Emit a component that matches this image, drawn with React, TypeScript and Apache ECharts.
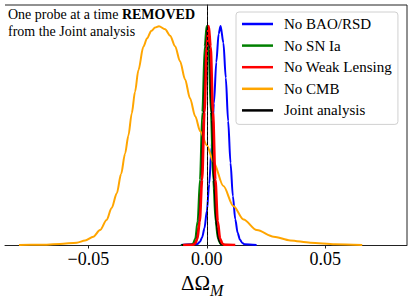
import React, { useEffect, useRef } from "react";
import * as echarts from "echarts";

const seriesNames = ["No BAO/RSD", "No SN Ia", "No Weak Lensing", "No CMB", "Joint analysis"];
const seriesColors = ["#0000ff", "#008000", "#ff0000", "#ffa500", "#000000"];

const noBaoX = [-0.011, -0.004, -0.003, -0.002, -0.001, 0, 0.001, 0.002, 0.003, 0.004, 0.005, 0.0058, 0.007, 0.008, 0.009, 0.01, 0.011, 0.012, 0.013, 0.014, 0.015, 0.016, 0.021];
const noBaoY = [0, 0.0048, 0.0135, 0.034, 0.0766, 0.154, 0.278, 0.448, 0.647, 0.835, 0.965, 1, 0.923, 0.764, 0.566, 0.375, 0.223, 0.118, 0.056, 0.0239, 0.0091, 0.0031, 0];

const noSnX = [-0.0109, -0.0069, -0.0059, -0.0049, -0.0039, -0.0029, -0.0019, -0.0009, -0.0001, 0.0007, 0.0017, 0.0027, 0.0037, 0.0047, 0.0057, 0.0067, 0.011];
const noSnY = [0, 0.0008, 0.0056, 0.0286, 0.108, 0.298, 0.607, 0.906, 1, 0.906, 0.607, 0.298, 0.108, 0.0286, 0.0056, 0.0008, 0];

const noWlX = [-0.01, -0.006, -0.005, -0.004, -0.003, -0.002, -0.001, 0, 0.0008, 0.0016, 0.0026, 0.0036, 0.0046, 0.0056, 0.0066, 0.0076, 0.012];
const noWlY = [0, 0.0008, 0.0056, 0.0286, 0.108, 0.298, 0.607, 0.906, 1, 0.906, 0.607, 0.298, 0.108, 0.0286, 0.0056, 0.0008, 0];

const noCmbX = [-0.0793, -0.0705, -0.062, -0.0549, -0.0514, -0.0479, -0.0451, -0.0423, -0.0402, -0.038, -0.0362, -0.0345, -0.0331, -0.0317, -0.0303, -0.0289, -0.0268, -0.0252, -0.0235, -0.0218, -0.0202, -0.0176, -0.0155, -0.0134, -0.0113, -0.0092, -0.0071, -0.0049, -0.0028, 0, 0.0028, 0.007, 0.0112, 0.0155, 0.0211, 0.0282, 0.0352, 0.0437, 0.0542, 0.0656];
const noCmbY = [0, 0.001, 0.0046, 0.0105, 0.02, 0.038, 0.068, 0.114, 0.169, 0.236, 0.324, 0.418, 0.5, 0.601, 0.7, 0.798, 0.905, 0.944, 0.977, 0.993, 0.999, 0.985, 0.956, 0.908, 0.839, 0.757, 0.67, 0.588, 0.52, 0.456, 0.379, 0.269, 0.178, 0.116, 0.068, 0.038, 0.021, 0.0105, 0.0037, 0];

const jointX = [-0.0106, -0.0064, -0.0054, -0.0044, -0.0034, -0.0024, -0.0014, -0.0004, 0.0004, 0.0012, 0.0022, 0.0032, 0.0042, 0.0052, 0.0062, 0.0072, 0.0106];
const jointY = [0, 0.0003, 0.003, 0.0186, 0.0822, 0.258, 0.571, 0.895, 1, 0.895, 0.571, 0.258, 0.0822, 0.0186, 0.003, 0.0003, 0];

const tickValues = [-0.05, 0, 0.05];
const tickLabels = ["\u22120.05", "0.00", "0.05"];

const SERIF = "serif";

function zip(xs: number[], ys: number[]) {
  return xs.map((x, i) => [x, ys[i]]);
}

export default function App() {
  const ref = useRef<HTMLDivElement>(null);
  useEffect(() => {
    if (!ref.current) return;
    const chart = echarts.init(ref.current, undefined, { renderer: "svg" });
    const datasets = [
      zip(noBaoX, noBaoY),
      zip(noSnX, noSnY),
      zip(noWlX, noWlY),
      zip(noCmbX, noCmbY),
      zip(jointX, jointY),
    ];
    const widths = [2, 2, 2.6, 2, 2];
    const z = [2, 3, 5, 4, 4];
    const series: any[] = datasets.map((d, i) => ({
      name: seriesNames[i],
      type: "line",
      data: d,
      showSymbol: false,
      smooth: 0.3,
      smoothMonotone: "x",
      z: z[i],
      lineStyle: { color: seriesColors[i], width: widths[i] },
      itemStyle: { color: seriesColors[i] },
    }));
    series[4].markLine = {
      silent: true,
      symbol: "none",
      label: { show: false },
      lineStyle: { color: "#000", type: [3, 2], width: 1 },
      data: [{ xAxis: 0 }],
      z: 6,
    };
    chart.setOption({
      animation: false,
      backgroundColor: "#fff",
      textStyle: { fontFamily: SERIF },
      grid: { left: 5, right: 6, top: 5, bottom: 58, containLabel: false },
      xAxis: {
        type: "value",
        min: -0.0852,
        max: 0.0845,
        axisLine: { show: true, lineStyle: { color: "#222", width: 1 } },
        axisTick: {
          show: true,
          customValues: tickValues,
          length: 3.5,
          lineStyle: { color: "#222", width: 1 },
        },
        axisLabel: {
          customValues: tickValues,
          formatter: (v: number) => {
            const i = tickValues.findIndex((t) => Math.abs(t - v) < 1e-9);
            return i >= 0 ? tickLabels[i] : "";
          },
          fontFamily: SERIF,
          fontSize: 18,
          color: "#000",
          margin: 5,
        },
        splitLine: { show: false },
      },
      yAxis: {
        type: "value",
        min: 0,
        max: 1.096,
        axisLine: { show: true, lineStyle: { color: "#222", width: 1 } },
        axisTick: { show: false },
        axisLabel: { show: false },
        splitLine: { show: false },
      },
      legend: {
        orient: "vertical",
        left: 236,
        top: 12,
        padding: [4, 6, 6, 6],
        itemGap: 5.6,
        itemWidth: 31,
        itemHeight: 2.5,
        icon: "rect",
        backgroundColor: "rgba(255,255,255,0.8)",
        borderColor: "#d0d0d0",
        borderWidth: 1,
        borderRadius: 3,
        data: seriesNames,
        textStyle: {
          fontFamily: SERIF,
          fontSize: 15,
          color: "#000",
          lineHeight: 16,
          padding: [0, 0, 0, 6],
        },
      },
      graphic: [
        {
          type: "line",
          shape: { x1: 5, y1: 5, x2: 407, y2: 5 },
          style: { stroke: "#222", lineWidth: 1 },
          silent: true,
        },
        {
          type: "line",
          shape: { x1: 407, y1: 5, x2: 407, y2: 245 },
          style: { stroke: "#222", lineWidth: 1 },
          silent: true,
        },
        {
          type: "text",
          left: 8,
          top: 7,
          z: 10,
          style: {
            text: "{a|One probe at a time }{b|REMOVED}\n{a|from the Joint analysis}",
            rich: {
              a: { fontFamily: SERIF, fontSize: 14, fill: "#000", lineHeight: 17 },
              b: { fontFamily: SERIF, fontSize: 14, fontWeight: "bold", fill: "#000", lineHeight: 17 },
            },
          },
        },
        {
          type: "text",
          left: 181,
          top: 268,
          z: 10,
          style: {
            text: "{a|\u0394\u03a9}{b|M}",
            rich: {
              a: { fontFamily: SERIF, fontSize: 21, fill: "#000", lineHeight: 22 },
              b: { fontFamily: SERIF, fontSize: 16, fontStyle: "italic", fill: "#000", lineHeight: 22, padding: [14, 0, 0, 0] },
            },
          },
        },
      ],
      series,
    });
    return () => chart.dispose();
  }, []);
  return (
    <div
      ref={ref}
      style={{ position: "fixed", left: 0, top: 0, width: 413, height: 303 }}
    />
  );
}
